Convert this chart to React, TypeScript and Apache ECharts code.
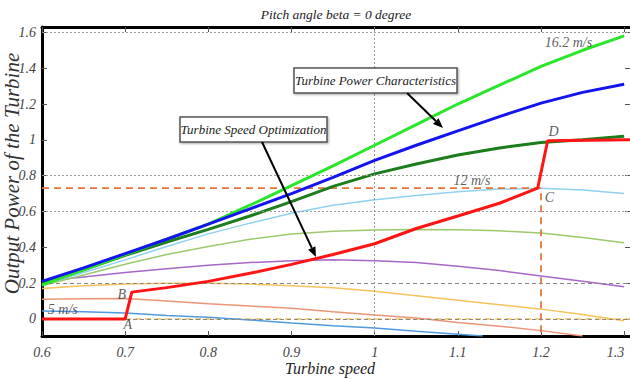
import React, { useEffect, useRef } from 'react';
import * as echarts from 'echarts';

// ---------- data ----------
const xTicks = [0.6, 0.7, 0.8, 0.9, 1.0, 1.1, 1.2, 1.3];
const yTicks = [0, 0.2, 0.4, 0.6, 0.8, 1.0, 1.2, 1.4, 1.6];

const speed = [0.6, 0.65, 0.7, 0.75, 0.8, 0.85, 0.9, 0.95, 1.0, 1.05, 1.1, 1.15, 1.2, 1.25, 1.3];

const p162 = [0.19, 0.275, 0.36, 0.445, 0.53, 0.635, 0.745, 0.855, 0.97, 1.085, 1.2, 1.305, 1.41, 1.5, 1.58];
const pBlue = [0.21, 0.285, 0.365, 0.445, 0.53, 0.615, 0.7, 0.79, 0.885, 0.97, 1.05, 1.13, 1.205, 1.265, 1.31];
const pDarkGreen = [0.2, 0.275, 0.355, 0.43, 0.5, 0.575, 0.655, 0.74, 0.81, 0.865, 0.915, 0.955, 0.985, 1.0, 1.02];
const p12 = [0.19, 0.26, 0.33, 0.405, 0.475, 0.535, 0.59, 0.635, 0.665, 0.69, 0.71, 0.725, 0.73, 0.72, 0.7];
const pOlive = [0.185, 0.245, 0.305, 0.36, 0.405, 0.445, 0.475, 0.49, 0.497, 0.5, 0.498, 0.492, 0.48, 0.455, 0.425];
const pPurple = [0.21, 0.235, 0.26, 0.28, 0.3, 0.315, 0.325, 0.33, 0.325, 0.315, 0.295, 0.27, 0.24, 0.21, 0.18];
const pYellow = [0.17, 0.185, 0.195, 0.2, 0.2, 0.195, 0.185, 0.175, 0.155, 0.13, 0.105, 0.08, 0.055, 0.025, -0.01];

const salmonX = [0.6, 0.65, 0.7, 0.75, 0.8, 0.85, 0.9, 0.95, 1.0, 1.05, 1.1, 1.15, 1.2, 1.25];
const salmonY = [0.11, 0.113, 0.115, 0.1, 0.085, 0.072, 0.06, 0.04, 0.022, 0.005, -0.02, -0.04, -0.065, -0.095];

const p5X = [0.6, 0.65, 0.7, 0.75, 0.8, 0.85, 0.9, 0.95, 1.0, 1.05, 1.1, 1.13];
const p5Y = [0.045, 0.04, 0.033, 0.02, 0.01, -0.005, -0.022, -0.038, -0.05, -0.068, -0.085, -0.095];

const optX = [0.6, 0.7, 0.708, 0.75, 0.8, 0.85, 0.9, 0.95, 1.0, 1.05, 1.1, 1.15, 1.196, 1.208, 1.307];
const optY = [0, 0, 0.15, 0.175, 0.21, 0.255, 0.305, 0.36, 0.42, 0.505, 0.575, 0.646, 0.73, 0.995, 1.0];

const refX = [0.6, 1.2, 1.2];
const refY = [0.73, 0.73, -0.095];

const zeroX = [0.7, 1.307];
const zeroY = [0, 0];

const annNames = ['16.2 m/s', '12 m/s', '5 m/s', 'A', 'B', 'C', 'D'];
const annX = [1.233, 1.117, 0.625, 0.703, 0.696, 1.21, 1.215];
const annY = [1.545, 0.775, 0.055, -0.033, 0.134, 0.68, 1.048];

const dottedGridY = [0.6, 0.8, 1.6];
const dashedGridY = [0, 0.2];
const dottedGridX = [1.0];

const FONT = '"Liberation Serif", "Times New Roman", serif';

const zip = (xs: number[], ys: number[]) => xs.map((x, i) => [x, ys[i]]);

function arrow(x1: number, y1: number, x2: number, y2: number) {
  const dx = x2 - x1, dy = y2 - y1;
  const len = Math.sqrt(dx * dx + dy * dy);
  const ux = dx / len, uy = dy / len;
  const bx = x2 - ux * 10, by = y2 - uy * 10;
  const px = -uy * 4, py = ux * 4;
  return [
    { type: 'line', shape: { x1, y1, x2: bx, y2: by }, style: { stroke: '#000', lineWidth: 2 }, z: 100 },
    {
      type: 'polygon',
      shape: { points: [[x2, y2], [bx + px, by + py], [bx - px, by - py]] },
      style: { fill: '#000' },
      z: 100,
    },
  ];
}

function box(x: number, y: number, w: number, h: number, text: string) {
  return [
    {
      type: 'rect',
      shape: { x, y, width: w, height: h },
      style: { fill: '#fff', stroke: '#555', lineWidth: 1.5, shadowColor: 'rgba(0,0,0,0.35)', shadowBlur: 2, shadowOffsetX: 1, shadowOffsetY: 1 },
      z: 100,
    },
    {
      type: 'text',
      x: x + w / 2,
      y: y + h / 2,
      style: { text, fill: '#222', font: `italic 13px ${FONT}`, align: 'center', verticalAlign: 'middle' },
      z: 101,
    },
  ];
}

const thin = (name: string, data: number[][], color: string) => ({
  name,
  type: 'line',
  data,
  showSymbol: false,
  itemStyle: { color },
  lineStyle: { color, width: 1.5 },
  z: 2,
});

const thick = (name: string, data: number[][], color: string, z: number) => ({
  name,
  type: 'line',
  data,
  showSymbol: false,
  itemStyle: { color },
  lineStyle: { color, width: 3 },
  z,
});

export default function App() {
  const ref = useRef<HTMLDivElement>(null);
  useEffect(() => {
    if (!ref.current) return;
    const chart = echarts.init(ref.current, undefined, { renderer: 'svg' });
    const fmt = (v: number) => String(+Number(v).toFixed(1));
    const labelStyle = { fontFamily: FONT, fontStyle: 'italic', fontSize: 14, color: '#444' };
    const gridLines: any[] = [
      ...dottedGridY.map((v) => ({ yAxis: v, lineStyle: { color: '#999', type: [2, 2], width: 1 } })),
      ...dashedGridY.map((v) => ({ yAxis: v, lineStyle: { color: '#888', type: [4, 3], width: 1 } })),
      ...dottedGridX.map((v) => ({ xAxis: v, lineStyle: { color: '#999', type: [2, 2], width: 1 } })),
    ];
    const option: any = {
      animation: false,
      backgroundColor: '#fff',
      grid: { left: 42, right: 0, top: 27, bottom: 43, containLabel: false, outerBoundsMode: 'none' },
      xAxis: [
        {
          type: 'value',
          position: 'bottom',
          min: 0.6,
          max: 1.307,
          name: 'Turbine speed',
          nameLocation: 'middle',
          nameGap: 24,
          nameMoveOverlap: false,
          nameTextStyle: { fontFamily: FONT, fontStyle: 'italic', fontSize: 16, color: '#222', padding: [0, 12, 0, 0] },
          axisLine: { show: true, onZero: false, lineStyle: { color: '#000', width: 3 } },
          axisTick: { show: true, inside: true, length: 5, customValues: xTicks, lineStyle: { color: '#555' } },
          axisLabel: { show: true, customValues: xTicks, formatter: fmt, margin: 9, alignMaxLabel: 'right', ...labelStyle },
          splitLine: { show: false },
        },
        {
          type: 'value',
          position: 'top',
          min: 0.6,
          max: 1.307,
          axisLine: { show: true, onZero: false, lineStyle: { color: '#000', width: 3 } },
          axisTick: { show: true, inside: true, length: 5, customValues: xTicks, lineStyle: { color: '#555' } },
          axisLabel: { show: false },
          splitLine: { show: false },
        },
      ],
      yAxis: [
        {
          type: 'value',
          position: 'left',
          min: -0.095,
          max: 1.63,
          name: 'Output Power of the Turbine',
          nameLocation: 'middle',
          nameGap: 20,
          nameMoveOverlap: false,
          nameTextStyle: { fontFamily: FONT, fontStyle: 'italic', fontSize: 21, color: '#333', padding: [0, 0, 0, 16] },
          axisLine: { show: true, onZero: false, lineStyle: { color: '#000', width: 3 } },
          axisTick: { show: true, inside: true, length: 5, customValues: yTicks, lineStyle: { color: '#555' } },
          axisLabel: { show: true, customValues: yTicks, formatter: fmt, margin: 6, ...labelStyle },
          splitLine: { show: false },
        },
        {
          type: 'value',
          position: 'right',
          min: -0.095,
          max: 1.63,
          axisLine: { show: false, onZero: false },
          axisTick: { show: true, inside: true, length: 5, customValues: yTicks, lineStyle: { color: '#555' } },
          axisLabel: { show: false },
          splitLine: { show: false },
        },
      ],
      series: [
        {
          name: 'zero ref',
          type: 'line',
          data: zip(zeroX, zeroY),
          showSymbol: false,
          itemStyle: { color: '#f2bf55' },
          lineStyle: { color: '#f2bf55', width: 1.5, type: [6, 4] },
          z: 1,
          markLine: {
            silent: true,
            symbol: 'none',
            label: { show: false },
            lineStyle: { color: '#999', type: [2, 2], width: 1 },
            data: gridLines,
          },
        },
        thin('5 m/s', zip(p5X, p5Y), '#4f9be0'),
        thin('salmon', zip(salmonX, salmonY), '#ec9478'),
        thin('yellow', zip(speed, pYellow), '#f5c35a'),
        thin('purple', zip(speed, pPurple), '#a866c8'),
        thin('olive', zip(speed, pOlive), '#9dc96c'),
        thin('12 m/s', zip(speed, p12), '#8fd2f0'),
        {
          name: 'rated ref',
          type: 'line',
          data: zip(refX, refY),
          showSymbol: false,
          itemStyle: { color: '#e8743b' },
          lineStyle: { color: '#e8743b', width: 1.8, type: [7, 5] },
          z: 3,
        },
        thick('dark green', zip(speed, pDarkGreen), '#1b7d1b', 4),
        thick('16.2 m/s', zip(speed, p162), '#2ae62a', 5),
        thick('power', zip(speed, pBlue), '#1414f0', 6),
        thick('optimization', zip(optX, optY), '#ff1414', 7),
        {
          name: 'labels',
          type: 'scatter',
          data: annNames.map((n, i) => ({ name: n, value: [annX[i], annY[i]] })),
          symbolSize: 1,
          itemStyle: { color: 'rgba(0,0,0,0)' },
          label: {
            show: true,
            position: 'inside',
            formatter: (p: any) => p.name,
            fontFamily: FONT,
            fontStyle: 'italic',
            fontSize: 14,
            color: '#333',
          },
          z: 20,
        },
      ],
      graphic: [
        {
          type: 'text',
          x: 336,
          y: 14,
          style: { text: 'Pitch angle beta = 0 degree', fill: '#222', font: `italic 13.5px ${FONT}`, align: 'center', verticalAlign: 'middle' },
        },
        ...box(294, 68, 163, 25, 'Turbine Power Characteristics'),
        ...box(180, 117, 147, 25, 'Turbine Speed Optimization'),
        ...arrow(407, 93, 443, 128),
        ...arrow(262, 142, 316, 257),
      ],
    };
    chart.setOption(option);
    return () => chart.dispose();
  }, []);
  return <div ref={ref} style={{ position: 'absolute', left: 0, top: 0, width: 630, height: 379 }} />;
}
